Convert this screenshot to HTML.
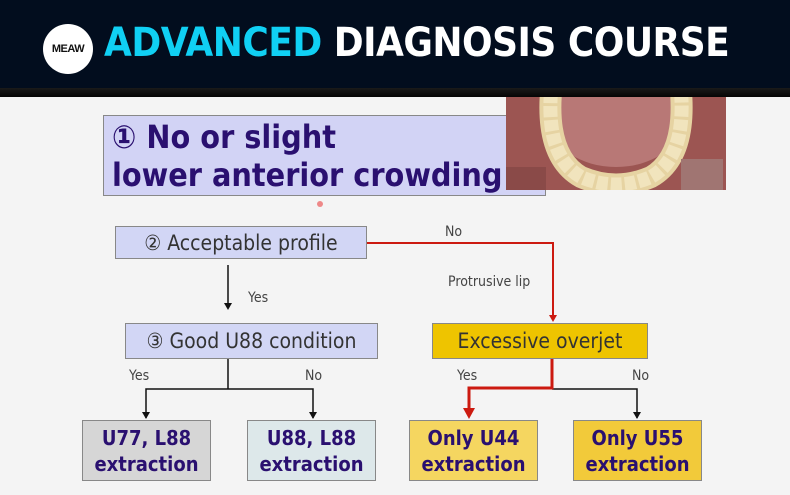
<!DOCTYPE html>
<html><head><meta charset="utf-8"><style>
*{margin:0;padding:0;box-sizing:border-box}
body{width:790px;height:495px;background:#f4f4f4;position:relative;overflow:hidden;font-family:"DejaVu Sans","Liberation Sans",sans-serif}
.hdr{position:absolute;left:0;top:0;width:790px;height:88px;background:#020d1e}
.stripe{position:absolute;left:0;top:88px;width:790px;height:9px;background:linear-gradient(#1a1a1a,#050505)}
.logo{position:absolute;left:43px;top:24px;width:50px;height:50px;border-radius:50%;background:#fff;color:#111;font:bold 11px "Liberation Sans",sans-serif;text-align:center;line-height:50px;letter-spacing:-0.5px}
.title{position:absolute;left:104px;top:20px;font:bold 40px "DejaVu Sans Condensed","DejaVu Sans",sans-serif;color:#fff;white-space:nowrap;letter-spacing:-0.5px}
.title span{color:#10d0f4}
.b{position:absolute;border:1px solid #888;display:flex;align-items:center;justify-content:center;text-align:center}
.l{position:absolute;font-size:14px;color:#444;font-family:"DejaVu Sans Condensed","DejaVu Sans",sans-serif}
.big{color:#2a1070;font-weight:bold;font-family:"DejaVu Sans Condensed","DejaVu Sans",sans-serif}
.mid{color:#333;font-size:21px;font-family:"DejaVu Sans Condensed","DejaVu Sans",sans-serif}
</style></head><body>
<div class="hdr"></div><div class="stripe"></div>
<div class="logo">MEAW</div>
<div class="title"><span>ADVANCED</span> DIAGNOSIS COURSE</div>

<div class="b big" style="left:103px;top:115px;width:443px;height:81px;background:#d2d3f5;justify-content:flex-start;text-align:left;padding-left:8px;font-size:32px;line-height:38px;white-space:nowrap;overflow:hidden">① No or slight<br>lower anterior crowding</div>

<svg style="position:absolute;left:506px;top:97px" width="220" height="93" viewBox="0 0 220 93">
<rect width="220" height="93" fill="#9c5552"/>
<ellipse cx="110" cy="25" rx="65" ry="45" fill="#b87876"/>
<path d="M45 -5 Q40 60 75 80 Q110 95 145 80 Q180 60 175 -5" fill="none" stroke="#e6d3a2" stroke-width="22"/>
<path d="M45 -5 Q40 60 75 80 Q110 95 145 80 Q180 60 175 -5" fill="none" stroke="#f1e4bd" stroke-width="14" stroke-dasharray="11 3"/>
<rect x="175" y="62" width="42" height="31" fill="#a07572"/>
<rect x="0" y="70" width="40" height="23" fill="#8a4a48"/>
</svg>

<div class="b mid" style="left:115px;top:226px;width:252px;height:33px;background:#d2d6f5">② Acceptable profile</div>
<div class="b mid" style="left:125px;top:323px;width:253px;height:36px;background:#d2d6f5">③ Good U88 condition</div>
<div class="b mid" style="left:432px;top:323px;width:216px;height:36px;background:#eec400">Excessive overjet</div>

<div class="b big" style="left:82px;top:420px;width:129px;height:61px;background:#d6d6d6;font-size:20px;line-height:26px">U77, L88<br>extraction</div>
<div class="b big" style="left:247px;top:420px;width:129px;height:61px;background:#dde8ea;font-size:20px;line-height:26px">U88, L88<br>extraction</div>
<div class="b big" style="left:409px;top:420px;width:129px;height:61px;background:#f5d660;font-size:20px;line-height:26px">Only U44<br>extraction</div>
<div class="b big" style="left:573px;top:420px;width:129px;height:61px;background:#f2ca3a;font-size:20px;line-height:26px">Only U55<br>extraction</div>

<svg style="position:absolute;left:0;top:0" width="790" height="495">
<g fill="none" stroke="#111" stroke-width="1.5">
<line x1="228" y1="265" x2="228" y2="303"/>
<line x1="228" y1="359" x2="228" y2="389"/>
<polyline points="146,418 146,389 313,389 313,418"/>
<polyline points="552,389 637,389 637,418"/>
</g>
<g fill="#111">
<path d="M224,303 L232,303 L228,310z"/>
<path d="M142,412 L150,412 L146,419z"/>
<path d="M309,412 L317,412 L313,419z"/>
<path d="M633,412 L641,412 L637,419z"/>
</g>
<g fill="none" stroke="#cc1a10">
<polyline points="367,243 553,243 553,316" stroke-width="2"/>
<polyline points="552,359 552,388 469,388 469,410" stroke-width="3"/>
</g>
<g fill="#cc1a10">
<path d="M549,315 L557,315 L553,322z"/>
<path d="M463,408 L475,408 L469,419z"/>
</g>
<circle cx="320" cy="204" r="3" fill="#e88"/>
</svg>

<div class="l" style="left:445px;top:224px">No</div>
<div class="l" style="left:448px;top:274px">Protrusive lip</div>
<div class="l" style="left:248px;top:290px">Yes</div>
<div class="l" style="left:129px;top:368px">Yes</div>
<div class="l" style="left:305px;top:368px">No</div>
<div class="l" style="left:457px;top:368px">Yes</div>
<div class="l" style="left:632px;top:368px">No</div>
</body></html>
